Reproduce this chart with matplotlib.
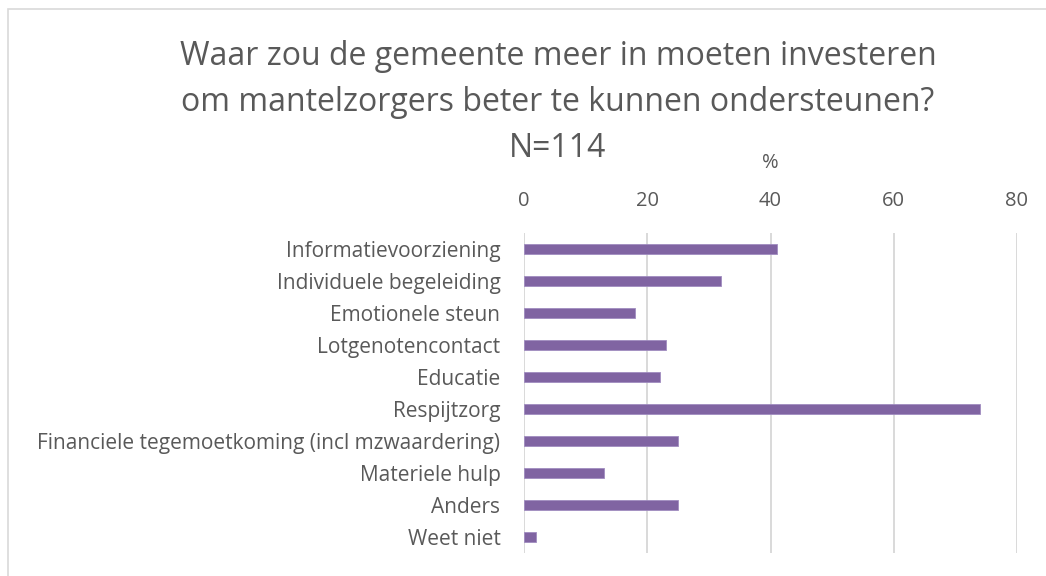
import matplotlib.pyplot as plt
from matplotlib.patches import Rectangle

categories = [
    "Informatievoorziening",
    "Individuele begeleiding",
    "Emotionele steun",
    "Lotgenotencontact",
    "Educatie",
    "Respijtzorg",
    "Financiele tegemoetkoming (incl mzwaardering)",
    "Materiele hulp",
    "Anders",
    "Weet niet",
]
values = [41, 32, 18, 23, 22, 74, 25, 13, 25, 2]
xticks = [0, 20, 40, 60, 80]
title_lines = [
    "Waar zou de gemeente meer in moeten investeren",
    "om mantelzorgers beter te kunnen ondersteunen?",
    "N=114",
]

plt.rcParams["font.family"] = ["Open Sans", "DejaVu Sans"]
text_color = "#595959"
W, H = 1046, 576

fig = plt.figure(figsize=(W / 100, H / 100), dpi=100)
ax = fig.add_axes([524 / W, 1 - 553 / H, (1017 - 524) / W, (553 - 233) / H])

ax.barh(range(len(categories)), values, height=0.34, color="#8064a2",
        edgecolor="#a08cc0", linewidth=0.6, zorder=3)
ax.set_ylim(len(categories) - 0.5, -0.5)
ax.set_xlim(0, 80)
ax.set_xticks(xticks)
ax.set_yticks(range(len(categories)))
ax.set_yticklabels(categories)
ax.xaxis.tick_top()
ax.tick_params(axis="x", length=0, pad=16, labelsize=14.5, labelcolor=text_color)
ax.tick_params(axis="y", length=0, pad=17, labelsize=15, labelcolor=text_color)
ax.grid(axis="x", color="#d9d9d9", linewidth=1.4, zorder=0)
for s in ax.spines.values():
    s.set_visible(False)

# axis title above the top tick labels
fig.text(770 / W, 1 - 163 / H, "%", ha="center", va="center",
         fontsize=14.5, color=text_color)

for line, base in zip(title_lines, [65, 111, 157]):
    fig.text(558 / W, 1 - base / H, line, ha="center", va="baseline",
             fontsize=23, color=text_color)

# chart frame (extends past the right and bottom edges)
fig.patches.append(Rectangle((8 / W, -0.1), 1.2, 1 - 9 / H + 0.1,
                             transform=fig.transFigure, fill=False,
                             edgecolor="#d9d9d9", linewidth=1.2))

fig.savefig("out.png", dpi=100)
